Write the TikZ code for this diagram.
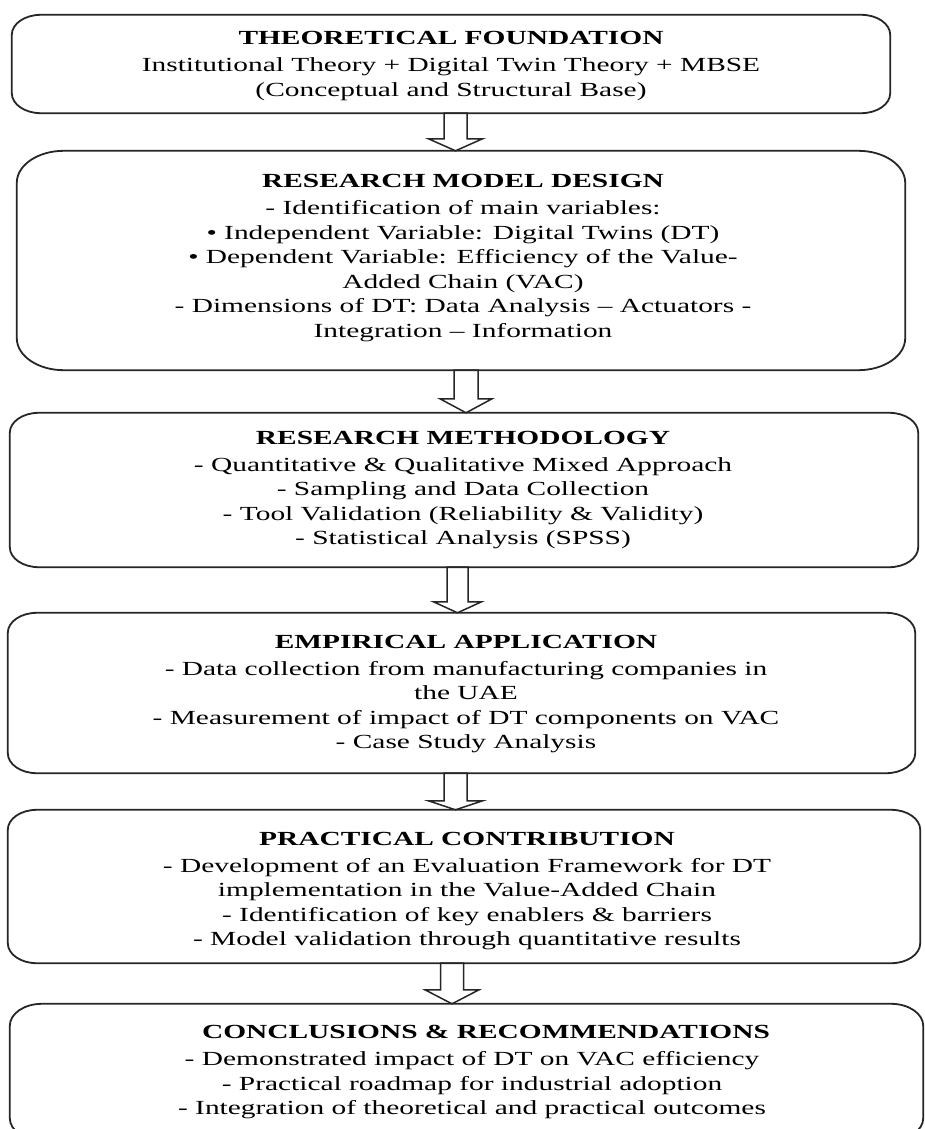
\documentclass[tikz,border=0pt]{standalone}
\usepackage{fontspec}
\setmainfont{Liberation Serif}[FakeStretch=1.47]
\usetikzlibrary{calc}

% Rounded frame with elliptical corners around a named box node:
% #1 node name, #2 horizontal corner radius, #3 vertical corner radius
\newcommand\roundedframe[3]{%
  \draw[outline] ($(#1.north west)+(#2,0)$) -- ($(#1.north east)+(-#2,0)$)
    arc[start angle=90, end angle=0, x radius=#2pt, y radius=#3pt]
    -- ($(#1.south east)+(0,#3)$)
    arc[start angle=0, end angle=-90, x radius=#2pt, y radius=#3pt]
    -- ($(#1.south west)+(#2,0)$)
    arc[start angle=270, end angle=180, x radius=#2pt, y radius=#3pt]
    -- ($(#1.north west)+(0,-#3)$)
    arc[start angle=180, end angle=90, x radius=#2pt, y radius=#3pt]
    -- cycle;}

% Hollow block arrow from the bottom of one box to the top of the next:
% #1 source, #2 target, #3 centre x, #4 shaft half width, #5 head half width, #6 head length
\newcommand\flowarrow[6]{%
  \coordinate (fa-s) at (#3,0 |- #1.south);
  \coordinate (fa-t) at (#3,0 |- #2.north);
  \draw[arrowline] ($(fa-s)+(-#4,0)$) -- ($(fa-t)+(-#4,#6)$)
    -- ($(fa-t)+(-#5,#6)$) -- (fa-t) -- ($(fa-t)+(#5,#6)$)
    -- ($(fa-t)+(#4,#6)$) -- ($(fa-s)+(#4,0)$) -- cycle;}

\begin{document}
\begin{tikzpicture}[x=1pt, y=1pt,
  box/.style={rectangle, inner sep=0pt, draw=none},
  outline/.style={draw=black!85, line width=1.8pt},
  arrowline/.style={draw=black!85, line width=1.5pt, fill=white, line join=miter},
  label/.style={align=center, inner sep=0pt, font=\fontsize{20}{24.5}\selectfont}]

\clip (0,0) rectangle (925,-1129);
\fill[white] (0,0) rectangle (925,-1129);

% stage boxes
\node[box, minimum width=878pt, minimum height=98pt]  (b1) at (451,-64) {};
\node[box, minimum width=888pt, minimum height=219pt] (b2) at (461,-260.5) {};
\node[box, minimum width=908pt, minimum height=154pt] (b3) at (464,-490) {};
\node[box, minimum width=907pt, minimum height=160pt] (b4) at (461.5,-693) {};
\node[box, minimum width=912pt, minimum height=153pt] (b5) at (464,-886.5) {};
\node[box, minimum width=913pt, minimum height=136pt] (b6) at (466.5,-1072) {};

% arrows between stages
\flowarrow{b1}{b2}{455.5}{11.5}{27}{12}
\flowarrow{b2}{b3}{466}{12}{26}{14}
\flowarrow{b3}{b4}{457.5}{10.5}{24}{11}
\flowarrow{b4}{b5}{455.5}{11.5}{27}{9}
\flowarrow{b5}{b6}{452}{11.5}{27}{14}

% outlines
\roundedframe{b1}{29}{20}
\roundedframe{b2}{47}{32}
\roundedframe{b3}{29}{20}
\roundedframe{b4}{29}{20}
\roundedframe{b5}{29}{20}
\roundedframe{b6}{32}{22}

% texts
\node[label] (t1) at (451,-66) {\textbf{THEORETICAL FOUNDATION}\\[2.5pt]
  Institutional Theory + Digital Twin Theory + MBSE\\
  (Conceptual and Structural Base)};

\node[label] (t2) at (463,-258) {\textbf{RESEARCH MODEL DESIGN}\\[2.5pt]
  - Identification of main variables:\\
  • Independent Variable: Digital Twins (DT)\\
  • Dependent Variable: Efficiency of the Value-\\
  Added Chain (VAC)\\
  - Dimensions of DT: Data Analysis – Actuators -\\
  Integration – Information};

\node[label] (t3) at (463,-490) {\textbf{RESEARCH METHODOLOGY}\\[2.5pt]
  - Quantitative \& Qualitative Mixed Approach\\
  - Sampling and Data Collection\\
  - Tool Validation (Reliability \& Validity)\\
  - Statistical Analysis (SPSS)};

\node[label] (t4) at (466,-694) {\textbf{EMPIRICAL APPLICATION}\\[2.5pt]
  - Data collection from manufacturing companies in\\
  the UAE\\
  - Measurement of impact of DT components on VAC\\
  - Case Study Analysis};

\node[label] (t5) at (467,-891) {\textbf{PRACTICAL CONTRIBUTION}\\[2.5pt]
  - Development of an Evaluation Framework for DT\\
  implementation in the Value-Added Chain\\
  - Identification of key enablers \& barriers\\
  - Model validation through quantitative results};

\node[label] (t6) at (472,-1072) {\hspace*{28pt}\textbf{CONCLUSIONS \& RECOMMENDATIONS}\\[2.5pt]
  - Demonstrated impact of DT on VAC efficiency\\
  - Practical roadmap for industrial adoption\\
  - Integration of theoretical and practical outcomes};
\end{tikzpicture}
\end{document}
